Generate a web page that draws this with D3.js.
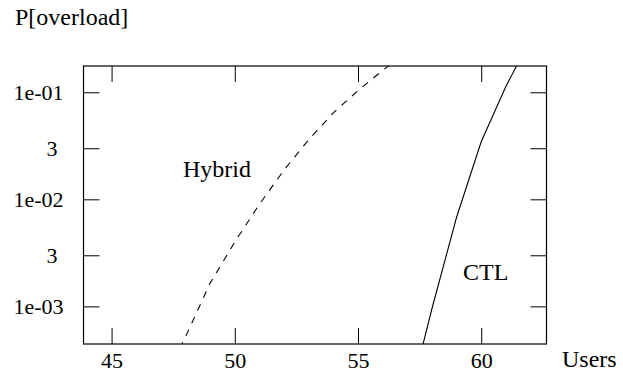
<!DOCTYPE html>
<html>
<head>
<meta charset="utf-8">
<script src="https://cdn.jsdelivr.net/npm/d3@7"></script>
<style>
    body { margin: 0; background: #fff; }
</style>
</head>
<body>
<div id="chart"></div>
<script>
// Data
const hybridUsers = [47, 48, 49, 50, 51, 52, 53, 54, 55, 56, 57];
const hybridP = [1.8e-4, 5.2e-4, 1.65e-3, 4.0e-3, 9.0e-3, 0.0188, 0.0361, 0.0642, 0.1038, 0.160, 0.241];

const ctlUsers = [57, 58, 59, 60, 61, 62];
const ctlP = [1.15e-4, 9.5e-4, 6.8e-3, 3.45e-2, 0.113, 0.315];

const xTicks = [45, 50, 55, 60];
const yTicks = [1e-3, 3e-3, 1e-2, 3e-2, 1e-1];
const yTickLabels = ['1e-03', '3', '1e-02', '3', '1e-01'];

const width = 623;
const height = 377;
const plot = { left: 83.5, right: 546.5, top: 66, bottom: 344 };
const serif = '"Liberation Serif", "Times New Roman", Times, serif';

let svg = d3.select('#chart').append('svg')
    .attr('width', width)
    .attr('height', height)
    .attr('font-family', serif);

let x = d3.scaleLinear()
    .domain([43.86, 62.65])
    .range([plot.left, plot.right]);

let y = d3.scaleLog()
    .domain([4.45e-4, 0.176])
    .range([plot.bottom, plot.top]);

svg.append('clipPath').attr('id', 'clip')
  .append('rect')
    .attr('x', plot.left)
    .attr('y', plot.top)
    .attr('width', plot.right - plot.left)
    .attr('height', plot.bottom - plot.top);

// Axes, ticks point inwards on all four sides
let leftAxis = d3.axisLeft(y)
    .tickValues(yTicks)
    .tickSize(-16)
    .tickPadding(20)
    .tickFormat((d, i) => yTickLabels[i]);

let rightAxis = d3.axisRight(y).tickValues(yTicks).tickSize(-16).tickFormat('');
let bottomAxis = d3.axisBottom(x).tickValues(xTicks).tickSize(-16).tickPadding(8).tickFormat(d3.format('d'));
let topAxis = d3.axisTop(x).tickValues(xTicks).tickSize(-16).tickFormat('');

function drawAxis(axis, tx, ty) {
    let g = svg.append('g')
        .attr('transform', `translate(${tx},${ty})`)
        .call(axis)
        .attr('font-family', serif)
        .attr('font-size', 22);
    g.select('.domain').remove();
    g.selectAll('line').attr('stroke', '#000');
    g.selectAll('text')
        .style('font-family', serif)
        .style('font-size', '22px')
        .attr('fill', '#000');
    return g;
}

let gLeft = drawAxis(leftAxis, plot.left, 0);
drawAxis(rightAxis, plot.right, 0);
drawAxis(bottomAxis, 0, plot.bottom);
drawAxis(topAxis, 0, plot.top);

// the "3" labels sit a little further left than the decade labels
gLeft.selectAll('text').filter((d, i) => yTickLabels[i] === '3')
    .attr('dx', -6);

svg.append('rect')
    .attr('x', plot.left)
    .attr('y', plot.top)
    .attr('width', plot.right - plot.left)
    .attr('height', plot.bottom - plot.top)
    .attr('fill', 'none')
    .attr('stroke', '#000')
    .attr('stroke-width', 1.2);

// Curves
let line = d3.line()
    .x(d => x(d[0]))
    .y(d => y(d[1]));

let curves = svg.append('g').attr('clip-path', 'url(#clip)');

curves.append('path')
    .datum(d3.zip(hybridUsers, hybridP))
    .attr('d', line)
    .attr('fill', 'none')
    .attr('stroke', '#000')
    .attr('stroke-width', 1.1)
    .attr('stroke-dasharray', '7,7');

curves.append('path')
    .datum(d3.zip(ctlUsers, ctlP))
    .attr('d', line)
    .attr('fill', 'none')
    .attr('stroke', '#000')
    .attr('stroke-width', 1.1);

// Labels
function label(tx, ty, s) {
    svg.append('text')
        .attr('x', tx)
        .attr('y', ty)
        .style('font-family', serif)
        .style('font-size', '24px')
        .attr('fill', '#000')
        .text(s);
}
label(15, 25, 'P[overload]');
label(562, 367, 'Users');
label(183, 177, 'Hybrid');
label(463, 280, 'CTL');
</script>
</body>
</html>
